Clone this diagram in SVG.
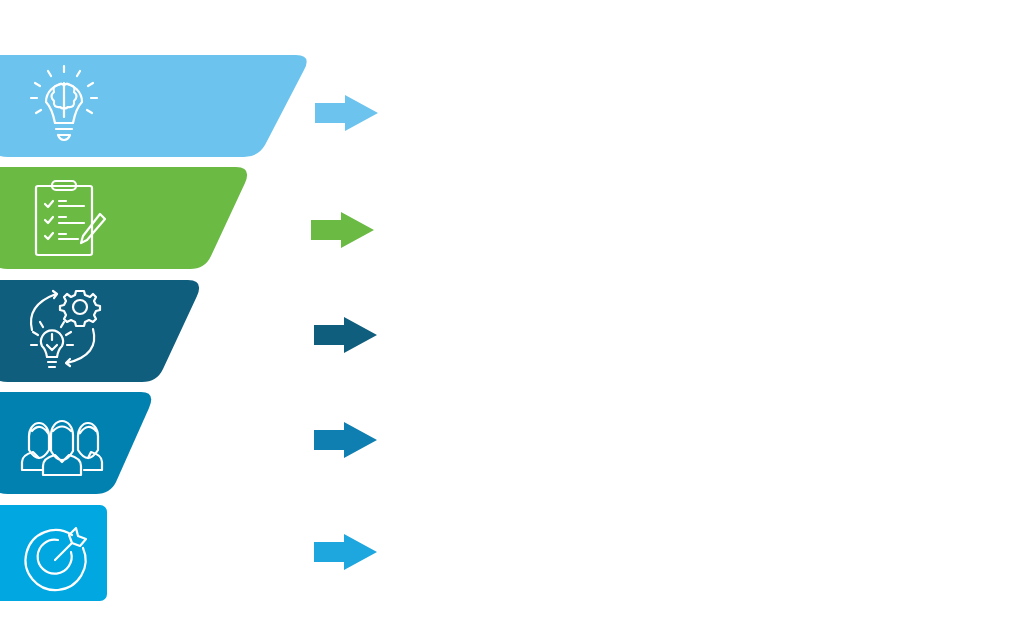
<svg xmlns="http://www.w3.org/2000/svg" width="1024" height="620" viewBox="0 0 1024 620">
<defs><style>.ic{fill:none;stroke:#fff;stroke-width:2.2;stroke-linecap:round;stroke-linejoin:round}</style>
<path id="arr" d="M0,-10 H30 V-18 L63,0 L30,18 V10 H0 Z"/></defs>
<rect width="1024" height="620" fill="#fff"/>
<g id="band1"><path d="M-10,55 H296 Q312,55 304,70 L265,145 Q258,157 244,157 H8 Q-10,157 -10,140 Z" fill="#6CC4EE"/>
<g class="ic"><path d="M55,123 Q52,108 46,102 A18,18 0 1 1 82,102 Q76,108 73,123 Z"/><path d="M56,129 H72 M58,135 H70 Q68,140 64,140 Q60,140 58,135"/><path d="M64,83 V117 M54,92 Q52,86 58,85 Q62,82 64,86 Q66,82 70,85 Q76,86 74,92 Q79,96 74,101 Q75,108 68,107 Q64,110 64,106 Q64,110 60,107 Q53,108 54,101 Q49,96 54,92"/><path d="M64,66 V72 M48,71 L51,76 M80,71 L77,76 M35,83 L40,86 M93,83 L88,86 M31,98 H37 M91,98 H97 M36,113 L41,110 M92,113 L87,110"/></g></g>
<g id="band2"><path d="M-10,167 H236 Q252,167 245,183 L211,256 Q205,269 190,269 H8 Q-10,269 -10,252 Z" fill="#6BBA44"/>
<g class="ic"><rect x="36" y="186" width="56" height="69" rx="2"/><rect x="52" y="181" width="24" height="9" rx="4"/><path d="M45,204 L48,207 L53,201 M45,220 L48,223 L53,217 M45,236 L48,239 L53,233 M59,201 H66 M59,206 H84 M59,217 H66 M59,223 H84 M59,234 H66 M59,239 H78 M100,214 L105,219 L87,240 L81,243 L83,236 Z"/></g></g>
<g id="band3"><path d="M-10,280 H188 Q204,280 197,296 L163,369 Q157,382 142,382 H8 Q-10,382 -10,365 Z" fill="#0F5E7D"/>
<g class="ic"><circle cx="80" cy="307" r="7"/><path d="M80,291 L84,291 L85,295 L90,297 L93,294 L96,297 L94,301 L96,305 L100,306 L100,310 L96,311 L94,315 L96,319 L93,322 L89,320 L85,322 L84,326 L76,326 L75,322 L71,320 L67,322 L64,319 L66,315 L64,311 L60,310 L60,306 L64,305 L66,301 L64,297 L67,294 L71,297 L75,295 L76,291 Z"/><path d="M32,330 Q26,305 56,294 M53,291 L57,294 L54,298"/><path d="M93,329 Q100,355 67,363 M70,359 L66,363 L70,366"/><path d="M47,357 Q46,350 42,346 A11,11 0 1 1 62,346 Q58,350 57,357 Z M48,362 H56 M49,367 H55 M52,334 V340 M40,322 L43,327 M64,322 L61,327 M33,332 L38,335 M71,332 L66,335 M31,345 H37 M67,345 H73 M47,345 L52,350 L57,345"/></g></g>
<g id="band4"><path d="M-10,392 H141 Q156,392 149,408 L116,482 Q110,494 96,494 H8 Q-10,494 -10,477 Z" fill="#0081B0"/>
<g class="ic"><path d="M29,450 V436 A10,13 0 0 1 49,436 V450 Q44,458 39,458 Q34,458 29,450 M32,431 Q40,422 48,433"/><path d="M78,450 V436 A10,13 0 0 1 98,436 V450 Q93,458 88,458 Q83,458 78,450 M80,433 Q88,422 96,431"/><path d="M22,470 V462 Q22,455 33,452 L39,458 M102,470 V462 Q102,455 91,452 L88,458 M22,470 H42 M84,470 H102"/><path d="M51,451 V435 A11,14 0 0 1 73,435 V451 Q68,460 62,460 Q56,460 51,451 M53,431 Q62,422 71,431 M43,475 V466 Q43,458 55,455 L62,462 L69,455 Q81,458 81,466 V475 Z"/></g></g>
<g id="band5"><rect x="-10" y="505" width="117" height="96" rx="7" fill="#00A7E1"/>
<g class="ic"><path d="M72,535 A30,30 0 1 0 83,548"/><path d="M58,540 A17,17 0 1 0 71,552"/><path d="M55,560 L72,543 M69,535 L72,543 L80,546 L86,539 L78,536 L76,528 Z"/></g></g>
<g id="connectors">
<use href="#arr" x="315" y="113" fill="#6CC4EE"/>
<use href="#arr" x="311" y="230" fill="#6BBA44"/>
<use href="#arr" x="314" y="335" fill="#0F5E7D"/>
<use href="#arr" x="314" y="440" fill="#0E7FB0"/>
<use href="#arr" x="314" y="552" fill="#1EA6DF"/>
</g>
</svg>
